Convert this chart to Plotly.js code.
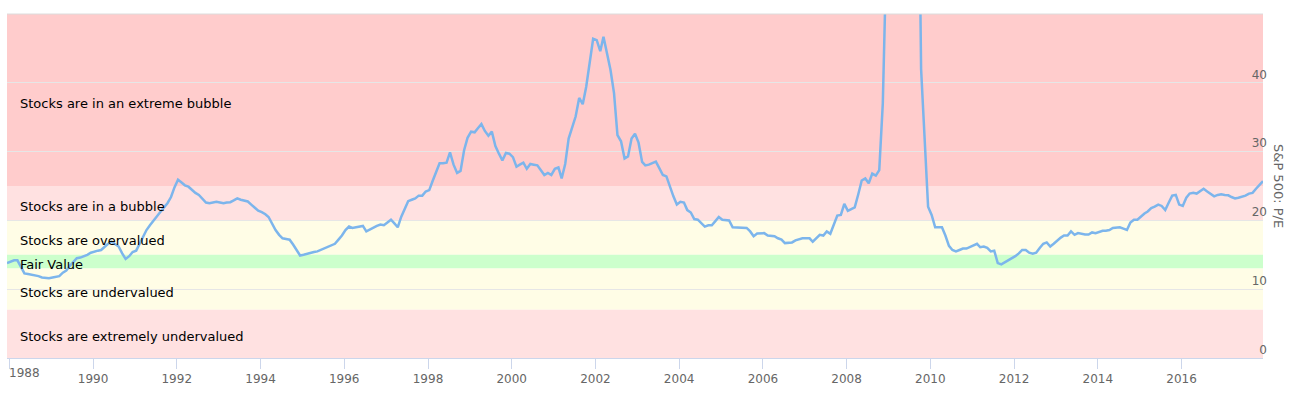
<!DOCTYPE html>
<html>
<head>
<meta charset="utf-8">
<script src="https://cdn.plot.ly/plotly-3.0.1.min.js"></script>
<style>
  html, body { margin: 0; padding: 0; background: #ffffff; }
  #chart { width: 1294px; height: 396px; }
</style>
</head>
<body>
<div id="chart"></div>
<script>
// ---- Data: S&P 500 P/E, monthly, Dec 1987 .. Dec 2017 ----
const firstYear = 1987, firstMonth = 12;
const pe1980s = [13.8,
  14.0,14.2,14.2,13.2,12.3,12.2,12.1,12.1,11.9,11.7,11.6,11.6,
  11.7,11.8,11.9,12.4,12.7,13.4,14.0,14.5,14.6,14.75,15.0,15.3];
const pe1990s = [
  15.5,15.6,15.7,16.2,16.6,16.9,16.6,16.2,15.2,14.4,14.8,15.4,
  15.6,16.6,17.7,18.6,19.3,20.0,20.6,21.3,21.9,22.5,23.4,24.8,
  25.9,25.5,25.1,24.9,24.4,24.0,23.7,23.1,22.6,22.5,22.6,22.7,
  22.6,22.5,22.6,22.65,22.9,23.2,23.0,22.9,22.75,22.3,21.9,21.4,
  21.2,20.9,20.5,19.5,18.6,17.9,17.4,17.3,17.2,16.5,15.7,14.9,
  15.0,15.1,15.3,15.4,15.5,15.7,15.9,16.1,16.4,16.6,17.2,17.8,
  18.6,19.1,18.9,19.0,19.1,19.2,18.4,18.7,19.0,19.2,19.4,19.3,
  19.7,20.1,19.6,19.0,20.5,21.8,22.8,23.0,23.2,23.6,23.6,24.2,
  24.4,25.8,26.9,28.3,28.3,28.4,29.9,28.1,26.9,27.2,30.2,32.0,
  32.9,32.8,33.4,34.0,33.0,32.3,32.9,30.8,29.7,28.7,29.8,29.7];
const pe2000s = [
  29.2,27.8,28.1,28.4,27.5,28.2,28.1,28.0,27.3,26.6,26.9,26.6,
  27.5,27.7,26.1,28.2,31.9,33.5,35.1,37.8,36.9,39.4,43.0,46.4,
  46.2,44.6,46.7,44.3,41.9,38.5,32.4,31.5,29.0,29.3,31.9,32.6,
  31.3,28.5,28.0,28.1,28.3,28.55,27.6,26.6,26.4,24.8,23.5,22.3,
  22.7,22.6,21.5,21.15,20.2,20.1,19.6,19.1,19.3,19.3,19.9,20.5,
  20.1,20.1,20.0,19.0,19.0,19.0,18.95,18.9,18.4,17.7,18.1,18.15,
  18.15,17.8,17.8,17.7,17.4,17.2,16.7,16.7,16.8,17.1,17.3,17.4,
  17.4,17.4,16.9,17.4,17.9,17.8,18.4,18.05,19.5,20.7,20.8,22.4,
  21.4,21.6,21.9,23.8,25.8,26.1,25.4,26.8,26.5,27.3,37.0,58.0,
  70.9,86.0,110.0,120.0,123.7,122.0,116.0,105.0,86.0,42.0,31.0,22.0];
const pe2010s = [
  20.8,19.0,19.0,19.0,17.8,16.3,15.7,15.5,15.7,15.9,15.9,16.1,
  16.4,16.6,16.1,16.2,16.0,15.5,15.6,13.8,13.6,13.9,14.1,14.4,
  14.8,15.2,15.7,15.7,15.3,15.15,15.3,16.0,16.6,16.8,16.2,16.6,
  17.1,17.5,17.8,17.8,18.4,17.9,18.15,18.0,17.95,17.95,18.25,18.15,
  18.3,18.5,18.5,18.6,18.9,19.0,19.0,18.8,18.6,19.7,20.1,20.1,
  20.6,21.0,21.3,21.8,22.0,22.3,22.1,21.5,22.6,23.6,23.7,22.3,
  22.1,23.3,23.9,24.0,23.9,24.3,24.6,24.2,23.9,23.5,23.7,23.8,
  23.7,23.65,23.4,23.2,23.3,23.4,23.6,23.9,24.0,24.6,25.2,25.7];

// Valuation bands (P/E ranges)
const bandLow    = [25, 20, 15, 13, 7, 0];
const bandHigh   = [1000, 25, 20, 15, 13, 7];
const bandLabels = ['Stocks are in an extreme bubble', 'Stocks are in a bubble',
                    'Stocks are overvalued', 'Fair Value',
                    'Stocks are undervalued', 'Stocks are extremely undervalued'];
const bandColors = ['rgb(255,204,204)', 'rgb(255,225,225)', 'rgb(255,253,230)',
                    'rgb(204,255,204)', 'rgb(255,253,230)', 'rgb(255,225,225)'];

// Axis ticks
const xTickYears = [1988,1990,1992,1994,1996,1998,2000,2002,2004,2006,2008,2010,2012,2014,2016];
const yTickVals  = [0, 10, 20, 30, 40, 50];
const yTickText  = ['0', '10', '20', '30', '40', ''];
const yAxisTitle = 'S&P 500: P/E';

// ---- Build series ----
const peValues = pe1980s.concat(pe1990s, pe2000s, pe2010s);
const dates = peValues.map((_, i) => {
  const idx = (firstMonth - 1) + i;
  const y = firstYear + Math.floor(idx / 12);
  const m = (idx % 12) + 1;
  return y + '-' + String(m).padStart(2, '0') + '-12';
});

const yMax = 50;
const font = 'DejaVu Sans, Verdana, sans-serif';

const shapes = bandLow.map((lo, i) => ({
  type: 'rect', xref: 'paper', yref: 'y', x0: 0, x1: 1,
  y0: lo, y1: Math.min(bandHigh[i], yMax),
  fillcolor: bandColors[i], line: { width: 0 }, layer: 'below'
}));
// top grid line (axis maximum)
shapes.push({
  type: 'line', xref: 'paper', yref: 'paper', x0: 0, x1: 1, y0: 1, y1: 1,
  line: { color: '#dcdcdc', width: 1 }, layer: 'above'
});

const annotations = bandLabels.map((t, i) => ({
  text: t, xref: 'paper', yref: 'y', x: 0,
  y: (bandLow[i] + Math.min(bandHigh[i], yMax)) / 2,
  xanchor: 'left', yanchor: 'middle', xshift: 10.5, yshift: -3,
  showarrow: false, font: { family: font, size: 13, color: '#000000' }
}));
// first year label sits flush with the plot edge
annotations.push({
  text: String(xTickYears[0]), xref: 'paper', yref: 'paper', x: 0, y: 0,
  xanchor: 'left', yanchor: 'middle', xshift: -0.5, yshift: -15,
  showarrow: false, font: { family: font, size: 12, color: '#666666' }
});
annotations.push({
  text: yAxisTitle, xref: 'paper', yref: 'paper', x: 1, y: 0.5,
  xanchor: 'center', yanchor: 'middle', xshift: 16, textangle: 90,
  showarrow: false, font: { family: font, size: 13, color: '#666666' }
});

const trace = {
  type: 'scatter', mode: 'lines', x: dates, y: peValues,
  line: { color: '#7cb5ec', width: 2.5 }, hoverinfo: 'x+y'
};

const layout = {
  width: 1294, height: 396,
  margin: { l: 7, r: 31, t: 14, b: 38, pad: 0 },
  paper_bgcolor: '#ffffff', plot_bgcolor: '#ffffff',
  showlegend: false,
  font: { family: font, size: 12, color: '#666666' },
  xaxis: {
    type: 'date', range: [dates[0], dates[dates.length - 1]],
    tickvals: xTickYears.map(y => y + '-01-01'),
    ticktext: xTickYears.map((y, i) => i === 0 ? '' : String(y)),
    showgrid: false, zeroline: false,
    showline: true, linecolor: '#ccd6eb', linewidth: 1,
    ticks: 'outside', ticklen: 10, tickcolor: '#ccd6eb', tickwidth: 1,
    ticklabelstandoff: -3.2,
    tickfont: { family: font, size: 12, color: '#666666' },
    fixedrange: true
  },
  yaxis: {
    side: 'right', range: [0, yMax],
    tickvals: yTickVals, ticktext: yTickText,
    ticklabelposition: 'inside top',
    ticklen: 0, ticklabelstandoff: -7,
    showgrid: true, gridcolor: '#e6e6e6', gridwidth: 1,
    zeroline: false, showline: false, ticks: '',
    tickfont: { family: font, size: 12, color: '#666666' },
    fixedrange: true
  },
  shapes: shapes,
  annotations: annotations
};

Plotly.newPlot('chart', [trace], layout, { displayModeBar: false, staticPlot: true });
</script>
</body>
</html>
